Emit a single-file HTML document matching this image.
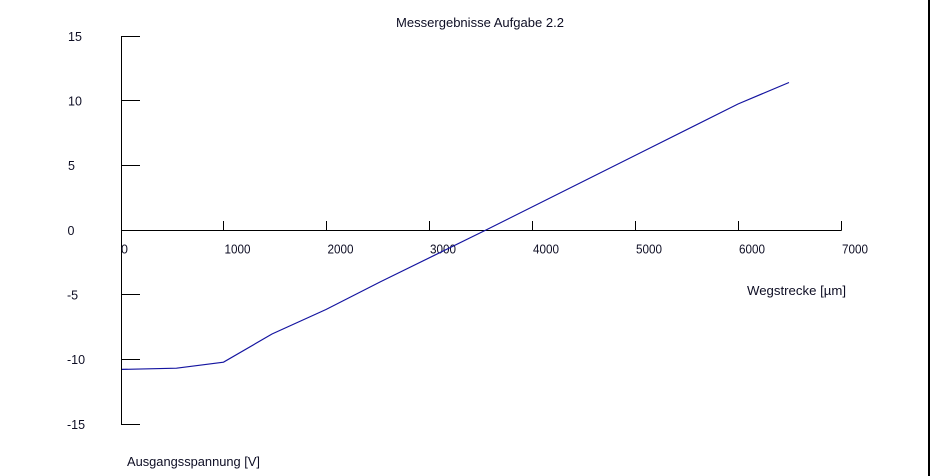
<!DOCTYPE html>
<html>
<head>
<meta charset="utf-8">
<style>
  html, body { margin:0; padding:0; background:#ffffff; }
  body { width:930px; height:476px; overflow:hidden; }
  svg { display:block; }
  text { font-family: "Liberation Sans", Arial, sans-serif; fill:#0e0e24; }
</style>
</head>
<body>
<svg width="930" height="476" viewBox="0 0 930 476" xmlns="http://www.w3.org/2000/svg">
  <rect x="0" y="0" width="930" height="476" fill="#ffffff"/>
  <!-- right border -->
  <rect x="928" y="0" width="2" height="476" fill="#000000"/>

  <!-- title -->
  <text x="396" y="27" font-size="13" textLength="168" lengthAdjust="spacingAndGlyphs">Messergebnisse Aufgabe 2.2</text>

  <!-- axes -->
  <g stroke="#000" stroke-width="1" fill="none">
    <line x1="121.5" y1="36" x2="121.5" y2="425"/>
    <line x1="121.5" y1="230.5" x2="841.5" y2="230.5"/>
    <!-- y ticks -->
    <line x1="121.5" y1="36.5" x2="140" y2="36.5"/>
    <line x1="121.5" y1="100.5" x2="140" y2="100.5"/>
    <line x1="121.5" y1="165.5" x2="140" y2="165.5"/>
    <line x1="121.5" y1="294.5" x2="140" y2="294.5"/>
    <line x1="121.5" y1="359.5" x2="140" y2="359.5"/>
    <line x1="121.5" y1="424.5" x2="140" y2="424.5"/>
    <!-- x ticks -->
    <line x1="223.5" y1="221" x2="223.5" y2="230.5"/>
    <line x1="326.5" y1="221" x2="326.5" y2="230.5"/>
    <line x1="429.5" y1="221" x2="429.5" y2="230.5"/>
    <line x1="532.5" y1="221" x2="532.5" y2="230.5"/>
    <line x1="635.5" y1="221" x2="635.5" y2="230.5"/>
    <line x1="738.5" y1="221" x2="738.5" y2="230.5"/>
    <line x1="841.5" y1="221" x2="841.5" y2="230.5"/>
  </g>

  <!-- y labels -->
  <g font-size="12.5">
    <text x="68" y="41">15</text>
    <text x="68" y="105.5">10</text>
    <text x="68" y="170">5</text>
    <text x="67.5" y="235">0</text>
    <text x="67" y="299.5">-5</text>
    <text x="67" y="364">-10</text>
    <text x="67" y="429">-15</text>
  </g>

  <!-- x labels -->
  <g font-size="12.5">
    <text x="121" y="253.5">0</text>
    <text x="224.5" y="253.5" textLength="26" lengthAdjust="spacingAndGlyphs">1000</text>
    <text x="327.5" y="253.5" textLength="26" lengthAdjust="spacingAndGlyphs">2000</text>
    <text x="430" y="253.5" textLength="26" lengthAdjust="spacingAndGlyphs">3000</text>
    <text x="533" y="253.5" textLength="26" lengthAdjust="spacingAndGlyphs">4000</text>
    <text x="636" y="253.5" textLength="26" lengthAdjust="spacingAndGlyphs">5000</text>
    <text x="739" y="253.5" textLength="26" lengthAdjust="spacingAndGlyphs">6000</text>
    <text x="842" y="253.5" textLength="26" lengthAdjust="spacingAndGlyphs">7000</text>
  </g>

  <!-- axis titles -->
  <text x="747" y="295" font-size="12.5" textLength="99" lengthAdjust="spacingAndGlyphs">Wegstrecke [µm]</text>
  <text x="127" y="466" font-size="12.5" textLength="133" lengthAdjust="spacingAndGlyphs">Ausgangsspannung [V]</text>

  <!-- data series -->
  <polyline fill="none" stroke="#1414a0" stroke-width="1.2"
    points="122,369.4 176.5,368.2 223.5,362.2 272,334 326,309.5 380,282 486,230 585,180.5 738,104 789,82.5"/>
</svg>
</body>
</html>
